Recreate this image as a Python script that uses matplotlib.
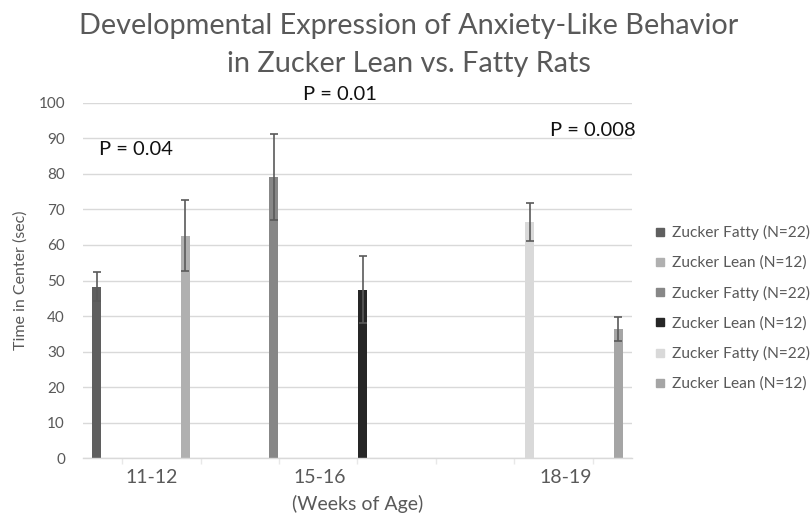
import matplotlib
matplotlib.use("Agg")
import matplotlib.pyplot as plt
import numpy as np
from matplotlib.lines import Line2D

N = np.nan

# ---- data ----
series_labels = ["Zucker Fatty (N=22)", "Zucker Lean (N=12)",
                 "Zucker Fatty (N=22)", "Zucker Lean (N=12)",
                 "Zucker Fatty (N=22)", "Zucker Lean (N=12)"]
fatty_11_12 = [48.3, N, N, N, N, N, N]
lean_11_12  = [N, 62.6, N, N, N, N, N]
fatty_15_16 = [N, N, 79.2, N, N, N, N]
lean_15_16  = [N, N, N, 47.4, N, N, N]
fatty_18_19 = [N, N, N, N, N, 66.5, N]
lean_18_19  = [N, N, N, N, N, N, 36.4]

err_fatty_11_12 = [4.2, N, N, N, N, N, N]
err_lean_11_12  = [N, 10.0, N, N, N, N, N]
err_fatty_15_16 = [N, N, 12.1, N, N, N, N]
err_lean_15_16  = [N, N, N, 9.4, N, N, N]
err_fatty_18_19 = [N, N, N, N, N, 5.4, N]
err_lean_18_19  = [N, N, N, N, N, N, 3.3]

age_labels = ["11-12", "15-16", "18-19"]
age_label_pos = [0.37, 2.52, 5.65]
p_labels = ["P = 0.04", "P = 0.01", "P = 0.008"]
p_pos = [(0.17, 86.7), (2.77, 102.4), (6.0, 92.1)]
yticks = list(range(0, 101, 10))

values = [fatty_11_12, lean_11_12, fatty_15_16, lean_15_16, fatty_18_19, lean_18_19]
errors = [err_fatty_11_12, err_lean_11_12, err_fatty_15_16, err_lean_15_16,
          err_fatty_18_19, err_lean_18_19]
colors = ["#5f5f5f", "#b0b0b0", "#878787", "#262626", "#d9d9d9", "#a5a5a5"]

FONT = ["Lato", "DejaVu Sans"]
plt.rcParams["font.family"] = FONT
TXT = "#595959"

fig = plt.figure(figsize=(8.12, 5.15), dpi=100)
ax = fig.add_axes([83 / 812, 1 - 458.3 / 515, (632 - 83) / 812, (458.3 - 102.7) / 515])

n_groups = len(fatty_11_12)
x = np.arange(n_groups)
pitch = 0.131
width = 0.115
for j, (vals, errs, c) in enumerate(zip(values, errors, colors)):
    ax.bar(x + (j - 2.5) * pitch, vals, width, color=c, yerr=errs,
           error_kw=dict(ecolor="#5a5a5a", elinewidth=1.2, capsize=3.2, capthick=1.2),
           zorder=2)

ax.set_xlim(-0.5, n_groups - 0.5)
ax.set_ylim(0, 100)
ax.set_yticks(yticks)
ax.yaxis.grid(True, color="#d9d9d9", lw=1.0)
ax.set_axisbelow(True)
for s in ["top", "right", "left"]:
    ax.spines[s].set_visible(False)
ax.spines["bottom"].set_color("#d9d9d9")
ax.spines["bottom"].set_linewidth(1.0)
ax.set_xticks(x)
ax.set_xticklabels([""] * n_groups)
ax.tick_params(axis="x", length=4, color="#e8e8e8", width=1)
ax.tick_params(axis="y", length=0, pad=13, labelsize=11, labelcolor=TXT)
for lab in ax.get_yticklabels():
    lab.set_fontfamily(FONT)

tr = ax.get_xaxis_transform()
for lab, pos in zip(age_labels, age_label_pos):
    ax.text(pos, -0.055, lab, transform=tr, ha="center", va="center",
            fontsize=14, color=TXT)
ax.text(3.0, -0.128, "(Weeks of Age)", transform=tr, ha="center", va="center",
        fontsize=14, color=TXT)

for lab, (px, py) in zip(p_labels, p_pos):
    ax.text(px, py, lab, ha="center", va="center", fontsize=14.5, color="#111111")

fig.text(409 / 812, 1 - 34.3 / 515, "Developmental Expression of Anxiety-Like Behavior",
         ha="center", va="baseline", fontsize=20.8, color=TXT)
fig.text(409 / 812, 1 - 71.7 / 515, "in Zucker Lean vs. Fatty Rats",
         ha="center", va="baseline", fontsize=20.8, color=TXT)

fig.text(21 / 812, 1 - 280 / 515, "Time in Center (sec)", rotation=90,
         ha="center", va="center", fontsize=11.5, color=TXT)

handles = [Line2D([], [], marker="s", linestyle="", markersize=6, color=c) for c in colors]
fig.legend(handles, series_labels, loc="upper left",
           bbox_to_anchor=(655 / 812, 1 - 225 / 515), frameon=False,
           fontsize=11.2, labelcolor=TXT, handlelength=0.7, handletextpad=0.4,
           labelspacing=1.0, borderpad=0, borderaxespad=0)

fig.savefig("out.png", dpi=100)
